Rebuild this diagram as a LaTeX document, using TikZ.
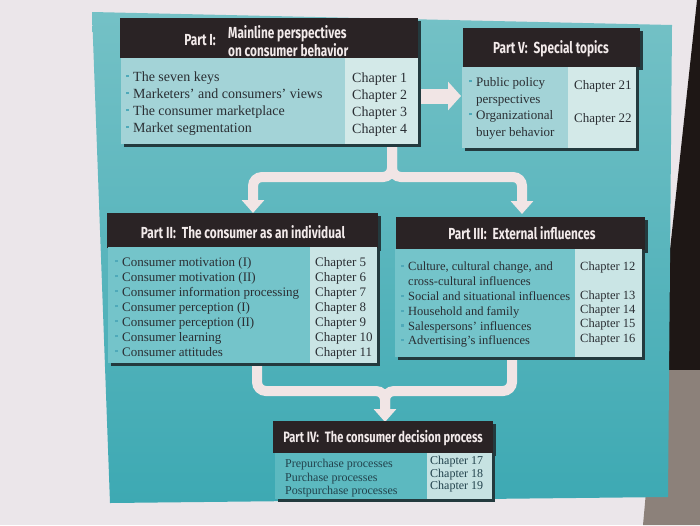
\documentclass[tikz,border=0pt]{standalone}
\usepackage{fontspec}
\setmainfont{Liberation Serif}
\newfontfamily\hdfont[FakeStretch=0.74]{Fira Sans}
\usetikzlibrary{arrows.meta,shadows}
\definecolor{pagec}{HTML}{EBE6EA}
\definecolor{darkc}{HTML}{1E1715}
\definecolor{greyc}{HTML}{8C817A}
\definecolor{pantop}{HTML}{74C1C6}
\definecolor{panbot}{HTML}{3DA9B3}
\definecolor{hdrc}{HTML}{2A2325}
\definecolor{hdtc}{HTML}{F2EAEA}
\definecolor{shc}{HTML}{233A3E}
\definecolor{bodyA}{HTML}{A3D3D7}
\definecolor{bodyB}{HTML}{74C4CA}
\definecolor{bodyC}{HTML}{5CB9C0}
\definecolor{chapA}{HTML}{D3E9E8}
\definecolor{chapB}{HTML}{CAE5E5}
\definecolor{chapC}{HTML}{C6E2E2}
\definecolor{txtc}{HTML}{2A2E33}
\definecolor{txtd}{HTML}{22424C}
\definecolor{bulc}{HTML}{4FA9B9}
\definecolor{arrc}{HTML}{F1E5E5}
\newcommand\bul{\makebox[7pt][l]{\textcolor{bulc}{\rule[0.28em]{2.4pt}{2.4pt}}}}
\newcommand\nobul{\hspace*{7pt}}
\begin{document}
\begin{tikzpicture}[x=1pt,y=-1pt,
  hdr/.style={fill=hdrc, anchor=north west, inner sep=0, drop shadow={shadow xshift=3pt,shadow yshift=-3pt,fill=shc,opacity=1}},
  body/.style={anchor=north west, inner sep=0, drop shadow={shadow xshift=3pt,shadow yshift=-3pt,fill=shc,opacity=1}},
  hdtext/.style={font=\hdfont\bfseries\fontsize{16}{18}\selectfont, text=hdtc, inner sep=0},
  itm/.style={anchor=base west, inner sep=0, text=txtc},
  arrA/.style={draw=arrc, line width=15pt, -{Triangle[width=28pt,length=13pt]}},
  arrB/.style={draw=arrc, line width=10pt, rounded corners=9pt},
  arrBt/.style={arrB, -{Triangle[width=22pt,length=13pt]}}]
\useasboundingbox (0,0) rectangle (700,525);
% background
\fill[pagec] (0,0) rectangle (700,525);
\fill[darkc] (697,0) -- (700,0) -- (700,370) -- (657,370) -- cycle;
\fill[greyc] (657,370) -- (700,370) -- (700,525) -- (643,525) -- cycle;
\shade[top color=pantop, bottom color=panbot] (92,12) -- (672,25) -- (668,497) -- (110,503) -- cycle;
% connector coordinates
\coordinate (a1s) at (410,96);
\coordinate (a1e) at (461,96);
\coordinate (s1) at (392,140);
\coordinate (j1) at (392,177);
\coordinate (t2) at (253,213);
\coordinate (t3) at (522,214);
\coordinate (s2) at (257,358);
\coordinate (s3) at (512,352);
\coordinate (j2) at (385,391);
\coordinate (t4) at (385,422);
% connectors
\draw[arrA] (a1s) -- (a1e);
\draw[arrBt] (s1) -- (j1) -| (t2);
\draw[arrBt] (s1) -- (j1) -| (t3);
\draw[arrB] (s3) |- (j2) -- ([yshift=6pt]t4);
\draw[arrBt] (s2) |- (j2) -- (t4);
% ---------- Part I
\node[hdr, minimum width=298pt, minimum height=40pt] (h1) at (120,18) {};
\node[body, fill=bodyA, minimum width=297pt, minimum height=86pt] (b1) at (121,58) {};
\fill[chapA] ([xshift=-73pt]b1.north east) rectangle (b1.south east);
\node[hdtext] (h1a) at (200,40) {Part I:};
\node[hdtext, anchor=west, align=left] (h1b) at (228,41.5) {Mainline perspectives\\on consumer behavior};
\foreach \t/\y [count=\i] in {{The seven keys}/81,{Marketers’ and consumers’ views}/98,{The consumer marketplace}/115,{Market segmentation}/132}
  \node[itm, font=\fontsize{14}{17}\selectfont] (i1\i) at (126,\y) {\bul\t};
\foreach \y [count=\i] in {82,99,116,133}
  \node[itm, font=\fontsize{14}{17}\selectfont] (c1\i) at (352,\y) {Chapter \i};
% ---------- Part V
\node[hdr, minimum width=177pt, minimum height=39pt] (h5) at (463,28) {};
\node[body, fill=bodyA, minimum width=174pt, minimum height=81pt] (b5) at (462,67) {};
\fill[chapA] ([xshift=-68pt]b5.north east) rectangle (b5.south east);
\node[hdtext] (h5a) at (551,49) {Part V:\hspace{6pt}Special topics};
\foreach \t/\y [count=\i] in {{\bul Public policy}/86,{\nobul perspectives}/103,{\bul Organizational}/119,{\nobul buyer behavior}/136}
  \node[itm, font=\fontsize{13}{16}\selectfont] (i5\i) at (469,\y) {\t};
\node[itm, font=\fontsize{13}{16}\selectfont] (c51) at (574,89) {Chapter 21};
\node[itm, font=\fontsize{13}{16}\selectfont] (c52) at (574,122) {Chapter 22};
% ---------- Part II
\node[hdr, minimum width=271pt, minimum height=35pt] (h2) at (107,213) {};
\node[body, fill=bodyB, minimum width=269pt, minimum height=116pt] (b2) at (108,247) {};
\fill[chapB] ([xshift=-67pt]b2.north east) rectangle (b2.south east);
\node[hdtext] (h2a) at (243,232) {Part II:\hspace{6pt}The consumer as an individual};
\foreach \t [count=\i] in {{Consumer motivation (I)},{Consumer motivation (II)},{Consumer information processing},{Consumer perception (I)},{Consumer perception (II)},{Consumer learning},{Consumer attitudes}}
  \node[itm, font=\fontsize{13}{15}\selectfont] (i2\i) at (115,{251+15*\i}) {\bul\t};
\foreach \i in {5,...,11}
  \node[itm, font=\fontsize{13}{15}\selectfont] (c2\i) at (315,{191+15*\i}) {Chapter \i};
% ---------- Part III
\node[hdr, minimum width=249pt, minimum height=33pt] (h3) at (396,217) {};
\node[body, fill=bodyB, minimum width=247pt, minimum height=108pt] (b3) at (395,249) {};
\fill[chapB] ([xshift=-67pt]b3.north east) rectangle (b3.south east);
\node[hdtext] (h3a) at (522,233) {Part III:\hspace{6pt}External influences};
\foreach \t/\y [count=\i] in {{\bul Culture, cultural change, and}/270.5,{\nobul cross-cultural influences}/285.5,{\bul Social and situational influences}/300.5,{\bul Household and family}/315.5,{\bul Salespersons’ influences}/330,{\bul Advertising’s influences}/344.5}
  \node[itm, font=\fontsize{12.5}{15}\selectfont] (i3\i) at (401,\y) {\t};
\foreach \y [count=\i from 12] in {270.5,299.5,313.5,327.5,342}
  \node[itm, font=\fontsize{12.5}{15}\selectfont] (c3\i) at (580,\y) {Chapter \i};
% ---------- Part IV
\node[hdr, minimum width=220pt, minimum height=32pt] (h4) at (273,421) {};
\node[body, fill=bodyC, minimum width=217pt, minimum height=46pt] (b4) at (275,453) {};
\fill[chapC] ([xshift=-65pt]b4.north east) rectangle (b4.south east);
\node[hdtext, font=\hdfont\bfseries\fontsize{15}{17}\selectfont] (h4a) at (383,438) {Part IV:\hspace{6pt}The consumer decision process};
\foreach \t/\y [count=\i] in {{Prepurchase processes}/467,{Purchase processes}/481,{Postpurchase processes}/494}
  \node[itm, text=txtd, font=\fontsize{12}{14}\selectfont] (i4\i) at (285,\y) {\t};
\foreach \y [count=\i from 17] in {464,477,489}
  \node[itm, text=txtd, font=\fontsize{12}{14}\selectfont] (c4\i) at (430,\y) {Chapter \i};
\end{tikzpicture}
\end{document}
